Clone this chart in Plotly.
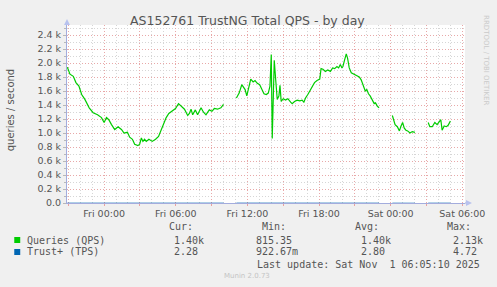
import plotly.graph_objects as go

# ---------------- data ----------------
# time in hours relative to Fri 00:00 (Fri 31 Oct 2025); None = no data
qps_hours = [
    -3.08, -2.86, -2.58, -2.36, -2.11, -1.88, -1.61, -1.25, -0.92, -0.55, -0.22,
    0.00, 0.20, 0.39, 0.62, 0.89, 1.17, 1.45, 1.67, 1.95, 2.14, 2.37, 2.56, 2.83,
    2.98, 3.12, 3.25, 3.39, 3.53, 3.75, 4.03, 4.31, 4.56, 4.78, 4.98, 5.20, 5.42,
    5.70, 5.98, 6.23, 6.45, 6.73, 7.00, 7.14, 7.28, 7.42, 7.64, 7.83, 8.12, 8.31,
    8.53, 8.81, 9.03, 9.23, 9.50, 9.78, 10.00,
    10.50,
    11.08, 11.31, 11.53, 11.67, 11.81, 11.95, 12.08, 12.28, 12.48, 12.64, 12.83,
    13.03, 13.20, 13.39, 13.58, 13.75, 13.89, 14.00, 14.08, 14.17, 14.25, 14.37,
    14.50, 14.64, 14.73, 14.83, 15.00, 15.20, 15.39, 15.62, 15.75, 15.95, 16.17,
    16.39, 16.58, 16.73, 16.87, 17.06, 17.23, 17.42, 17.62, 17.83, 18.06, 18.17,
    18.33, 18.53, 18.73, 18.95, 19.14, 19.31, 19.50, 19.64, 19.78, 19.92, 20.00,
    20.12, 20.28, 20.39, 20.53, 20.70, 20.89, 21.12, 21.37, 21.53, 21.73, 21.87,
    22.00, 22.14, 22.28, 22.48, 22.62, 22.73, 22.89, 23.03,
    23.50,
    24.14, 24.23, 24.37, 24.56, 24.73, 24.87, 25.00, 25.14, 25.28, 25.42, 25.62,
    25.81, 26.03,
    26.60,
    27.14, 27.28, 27.48, 27.70, 27.89, 28.03, 28.20, 28.31, 28.48, 28.67, 28.81,
    29.00,
]
qps_values = [
    1940, 1840, 1810, 1720, 1670, 1550, 1480, 1360, 1290, 1260, 1220,
    1150, 1220, 1190, 1120, 1050, 1090, 1050, 1000, 1010, 940, 910, 840, 820,
    840, 930, 880, 910, 880, 910, 880, 910, 950, 1050, 1120, 1220, 1280,
    1320, 1350, 1420, 1380, 1340, 1250, 1280, 1340, 1260, 1330, 1260, 1360, 1300,
    1260, 1330, 1310, 1350, 1340, 1360, 1410,
    None,
    1500, 1570, 1690, 1650, 1620, 1530, 1620, 1770, 1730, 1750, 1710,
    1690, 1630, 1560, 1550, 1570, 1670, 2120, 920, 1760, 2040, 1760,
    1480, 1530, 1680, 1450, 1490, 1470, 1490, 1440, 1420, 1450, 1470,
    1460, 1470, 1440, 1500, 1550, 1600, 1670, 1720, 1750, 1770, 1920,
    1910, 1880, 1900, 1880, 1930, 1920, 1950, 1930, 1980, 1930, 1950,
    2030, 2130, 2070, 1930, 1860, 1840, 1820, 1800, 1760, 1670, 1600,
    1620, 1560, 1530, 1450, 1420, 1430, 1380, 1360,
    None,
    1250, 1200, 1120, 1090, 1030, 1100, 1150, 1070, 1040, 1030, 1000,
    1020, 1010,
    None,
    1150, 1090, 1090, 1150, 1120, 1150, 1190, 1040, 1100, 1090, 1110,
    1170,
]

tps_hours = [-3.08, 0.0, 3.0, 6.0, 9.0, 10.0, 10.5, 11.08, 14.0, 17.0, 20.0, 23.03,
             23.5, 24.14, 26.03, 26.6, 27.14, 29.0]
tps_values = [2.9, 3.1, 2.2, 2.6, 3.0, 2.8, None, 3.4, 4.7, 2.9, 3.3, 2.6,
              None, 1.8, 0.92, None, 2.1, 2.28]

x_tickvals = [-3, 0, 3, 6, 9, 12, 15, 18, 21, 24, 27, 30]
x_ticktext = ["", "Fri 00:00", "", "Fri 06:00", "", "Fri 12:00", "",
              "Fri 18:00", "", "Sat 00:00", "", "Sat 06:00"]
y_tickvals = [0, 200, 400, 600, 800, 1000, 1200, 1400, 1600, 1800, 2000, 2200, 2400]
y_ticktext = ["0.0", "0.2 k", "0.4 k", "0.6 k", "0.8 k", "1.0 k", "1.2 k",
              "1.4 k", "1.6 k", "1.8 k", "2.0 k", "2.2 k", "2.4 k"]

title_text = "AS152761 TrustNG Total QPS - by day"
y_title = "queries / second"
legend_names = ["Queries (QPS)", "Trust+ (TPS)"]
legend_colors = ["#00CC00", "#0066B3"]
stat_headers = ["Cur:", "Min:", "Avg:", "Max:"]
stats_qps = ["1.40k", "815.35", "1.40k", "2.13k"]
stats_tps = ["2.28", "922.67m", "2.80", "4.72"]
last_update = "Last update: Sat Nov  1 06:05:10 2025"
version_text = "Munin 2.0.73"
side_text = "RRDTOOL / TOBI OETIKER"

# ---------------- layout geometry ----------------
W, H = 497, 287
L, R, T, B = 67, 30, 25, 84
PW, PH = W - L - R, H - T - B
X0 = 104.3  # pixel of Fri 00:00
PX_PER_H = 12.0
PX_PER_Q = 0.07


def px(x):
    return (x - L) / PW


def py(y):
    return (H - B - y) / PH


x_range = [(L - X0) / PX_PER_H, (L + PW - X0) / PX_PER_H]
y_range = [0, PH / PX_PER_Q]

TXT = "#555555"
SANS = "DejaVu Sans"
MONO = "DejaVu Sans Mono"
AXIS_COL = "#A3ACDD"

fig = go.Figure()
fig.add_trace(go.Scatter(x=tps_hours, y=tps_values, mode="lines",
                         line=dict(color=legend_colors[1], width=1),
                         opacity=0.45, connectgaps=False, hoverinfo="skip"))
fig.add_trace(go.Scatter(x=qps_hours, y=qps_values, mode="lines",
                         line=dict(color=legend_colors[0], width=1.2),
                         connectgaps=False, hoverinfo="skip"))

fig.update_layout(
    width=W, height=H,
    margin=dict(l=L, r=R, t=T, b=B, pad=0),
    paper_bgcolor="#F0F0F0",
    plot_bgcolor="#FFFFFF",
    showlegend=False,
    font=dict(family=SANS, size=9.5, color=TXT),
)

fig.update_xaxes(
    range=x_range, tickmode="array", tickvals=x_tickvals, ticktext=x_ticktext,
    showgrid=True, gridcolor="#E8A8A8", griddash="1px,2px", gridwidth=1,
    minor=dict(dtick=1, tick0=0, showgrid=True, gridcolor="#D6D6D6",
               griddash="1px,2px", gridwidth=1),
    showline=True, linecolor=AXIS_COL, linewidth=1,
    ticks="outside", ticklen=2, tickcolor="#E8A0A0",
    tickfont=dict(family=SANS, size=9.5, color=TXT),
    zeroline=False, fixedrange=True, layer="below traces",
)
fig.update_yaxes(
    range=y_range, tickmode="array", tickvals=y_tickvals, ticktext=y_ticktext,
    showgrid=True, gridcolor="#E8A8A8", griddash="1px,2px", gridwidth=1,
    minor=dict(dtick=100, tick0=0, showgrid=True, gridcolor="#D6D6D6",
               griddash="1px,2px", gridwidth=1, ticks="outside", ticklen=2,
               tickcolor="#B8B8B8"),
    showline=True, linecolor=AXIS_COL, linewidth=1,
    ticks="outside", ticklen=3, tickcolor="#B8B8B8",
    tickfont=dict(family=SANS, size=9.5, color=TXT),
    zeroline=False, fixedrange=True, layer="below traces",
)

shapes = []
# axis extension and arrows
shapes.append(dict(type="line", xref="paper", yref="paper",
                   x0=1.0, x1=px(470), y0=0, y1=0,
                   line=dict(color=AXIS_COL, width=1)))
shapes.append(dict(type="path", xref="paper", yref="paper",
                   path=f"M {px(468)} {py(200)} L {px(474)} {py(203)} L {px(468)} {py(206)} Z",
                   fillcolor="#B8C2EE", line=dict(width=0)))
shapes.append(dict(type="path", xref="paper", yref="paper",
                   path=f"M {px(64)} {py(25)} L {px(67)} {py(19)} L {px(70)} {py(25)} Z",
                   fillcolor="#B8C2EE", line=dict(width=0)))
# legend squares
for i, c in enumerate(legend_colors):
    yc = 240 + 12 * i
    shapes.append(dict(type="rect", xref="paper", yref="paper",
                       x0=px(14), x1=px(20), y0=py(yc - 3), y1=py(yc + 3),
                       fillcolor=c, line=dict(width=0)))
fig.update_layout(shapes=shapes)

ann = []
ann.append(dict(text=title_text, x=px(248), y=py(20), xref="paper", yref="paper",
                showarrow=False, xanchor="center", yanchor="middle",
                font=dict(family=SANS, size=12.5, color=TXT)))
ann.append(dict(text=y_title, x=px(11), y=py(110), xref="paper", yref="paper",
                showarrow=False, xanchor="center", yanchor="middle", textangle=-90,
                font=dict(family=SANS, size=10, color=TXT)))
ann.append(dict(text=side_text, x=px(488), y=py(60), xref="paper", yref="paper",
                showarrow=False, xanchor="center", yanchor="middle", textangle=90,
                font=dict(family=SANS, size=7, color="#CACACA")))
hdr_x = [167, 261, 354, 447]
val_x = [173, 255, 360, 453]
for hx, h in zip(hdr_x, stat_headers):
    ann.append(dict(text=h, x=px(hx), y=py(227), xref="paper", yref="paper",
                    showarrow=False, xanchor="left", yanchor="middle",
                    font=dict(family=MONO, size=10, color=TXT)))
for i, (name, stats) in enumerate(zip(legend_names, [stats_qps, stats_tps])):
    yc = 240 + 12 * i
    ann.append(dict(text=name, x=px(25), y=py(yc), xref="paper", yref="paper",
                    showarrow=False, xanchor="left", yanchor="middle",
                    font=dict(family=MONO, size=10, color=TXT)))
    for vx, s in zip(val_x, stats):
        ann.append(dict(text=s, x=px(vx), y=py(yc), xref="paper", yref="paper",
                        showarrow=False, xanchor="left", yanchor="middle",
                        font=dict(family=MONO, size=10, color=TXT)))
ann.append(dict(text=last_update, x=px(484), y=py(264), xref="paper", yref="paper",
                showarrow=False, xanchor="right", yanchor="middle",
                font=dict(family=MONO, size=10, color=TXT)))
ann.append(dict(text=version_text, x=px(248), y=py(276), xref="paper", yref="paper",
                showarrow=False, xanchor="center", yanchor="middle",
                font=dict(family=SANS, size=7, color="#C4C4C4")))
fig.update_layout(annotations=ann)

fig.write_html("out.html")
